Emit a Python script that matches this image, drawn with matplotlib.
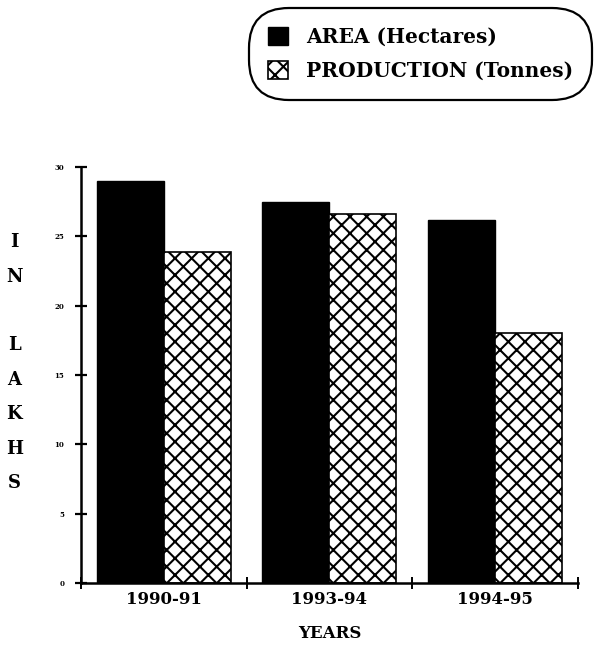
"""Area and production bar chart, 1990-91 to 1994-95 (in lakhs)."""

import matplotlib.pyplot as plt
import numpy as np

years = ["1990-91", "1993-94", "1994-95"]
area = [29.0, 27.5, 26.2]          # hectares, lakhs
production = [23.9, 26.6, 18.0]    # tonnes, lakhs
y_ticks = [0, 5, 10, 15, 20, 25, 30]

SERIF = "DejaVu Serif"


def main() -> None:
    plt.rcParams["hatch.linewidth"] = 1.5
    fig = plt.figure(figsize=(5.94, 6.51), dpi=100)
    ax = fig.add_axes([0.136, 0.1045, 0.837, 0.639])

    x = np.arange(len(years))
    w = 0.405
    ax.bar(x - w / 2, area, w, color="black", edgecolor="black",
           label="AREA (Hectares)")
    ax.bar(x + w / 2, production, w, color="white", edgecolor="black",
           hatch="xx", linewidth=1.2, label="PRODUCTION (Tonnes)")

    ax.set_xlim(-0.5, len(years) - 0.5)
    ax.set_ylim(0, 30)
    ax.set_yticks(y_ticks)
    ax.set_yticklabels([str(t) for t in y_ticks], fontsize=5,
                       fontweight="bold", family=SERIF)
    ax.tick_params(axis="y", direction="inout", length=8, width=1.6, pad=8)

    # labels centred under each group, tick marks between groups
    ax.set_xticks(x)
    ax.set_xticklabels(years, fontsize=12, fontweight="bold", family=SERIF)
    ax.set_xticks(np.arange(len(years) + 1) - 0.5, minor=True)
    ax.tick_params(axis="x", which="major", length=0, pad=6)
    ax.tick_params(axis="x", which="minor", direction="inout", length=8,
                   width=1.4)

    ax.spines[["top", "right"]].set_visible(False)
    ax.spines[["left", "bottom"]].set_linewidth(1.8)

    ax.set_xlabel("YEARS", fontsize=12, fontweight="bold", family=SERIF,
                  labelpad=12)
    fig.text(0.024, 0.443, "I\nN\n\nL\nA\nK\nH\nS", fontsize=13,
             fontweight="bold", family=SERIF, ha="center", va="center",
             linespacing=2.17)

    leg = fig.legend(loc="upper right", bbox_to_anchor=(0.997, 0.988),
                     prop={"family": SERIF, "weight": "bold", "size": 14.5},
                     frameon=True, fancybox=True, handlelength=1.0,
                     handleheight=1.0, borderpad=0.95, labelspacing=0.7,
                     handletextpad=0.9, borderaxespad=0)
    frame = leg.get_frame()
    frame.set_edgecolor("black")
    frame.set_linewidth(1.6)
    frame.set_alpha(1)
    frame.set_boxstyle("round", pad=0, rounding_size=2.0)

    fig.savefig("out.png")


if __name__ == "__main__":
    main()
